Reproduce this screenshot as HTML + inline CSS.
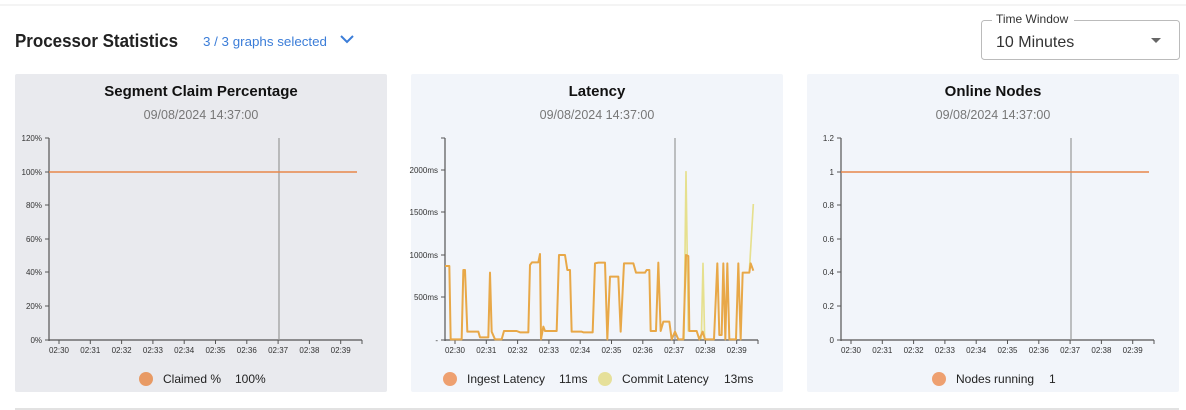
<!DOCTYPE html>
<html><head><meta charset="utf-8"><style>
html,body{margin:0;padding:0;background:#fff;width:1186px;height:410px;overflow:hidden}
svg{display:block;font-family:"Liberation Sans",sans-serif}
.t{font-size:8px;fill:#333}
</style></head><body>
<svg width="1186" height="410" viewBox="0 0 1186 410">
<line x1="0" y1="5" x2="1186" y2="5" stroke="#f4f4f4" stroke-width="2"/>
<line x1="15" y1="409" x2="1179" y2="409" stroke="#e2e2e2" stroke-width="2"/>
<text x="15" y="47" font-size="18" font-weight="bold" fill="#222" textLength="163" lengthAdjust="spacingAndGlyphs">Processor Statistics</text>
<text x="203" y="46" font-size="13" fill="#3b7dd8" textLength="124" lengthAdjust="spacingAndGlyphs">3 / 3 graphs selected</text>
<polyline points="341,36 347,42 353,36" fill="none" stroke="#3b7dd8" stroke-width="2"/>
<rect x="981.5" y="20.5" width="198" height="39" rx="3" fill="#fff" stroke="#bbb"/>
<rect x="992" y="12" width="82" height="14" fill="#fff"/>
<text x="996" y="23" font-size="12" fill="#333">Time Window</text>
<text x="996" y="47" font-size="16" fill="#333">10 Minutes</text>
<polygon points="1151,38 1161,38 1156,43" fill="#666"/>

<rect x="15" y="74" width="372" height="318" rx="2" fill="#e9eaee"/>
<rect x="411" y="74" width="372" height="318" rx="2" fill="#f2f5fa"/>
<rect x="807" y="74" width="372" height="318" rx="2" fill="#f2f5fa"/>

<g font-size="15" font-weight="bold" fill="#111" text-anchor="middle">
<text x="201" y="96">Segment Claim Percentage</text>
<text x="597" y="96">Latency</text>
<text x="993" y="96">Online Nodes</text>
</g>
<g font-size="12.5" fill="#777" text-anchor="middle">
<text x="201" y="119">09/08/2024 14:37:00</text>
<text x="597" y="119">09/08/2024 14:37:00</text>
<text x="993" y="119">09/08/2024 14:37:00</text>
</g>

<g id="ax">
<line x1="49" y1="138" x2="49" y2="341" stroke="#555" stroke-width="1.2"/>
<line x1="49" y1="340" x2="362" y2="340" stroke="#555" stroke-width="1.2"/>
<line x1="279" y1="138" x2="279" y2="340" stroke="#999" stroke-width="1.2"/>
<g stroke="#555" stroke-width="1">
<line x1="59" y1="340" x2="59" y2="344"/><line x1="90.3" y1="340" x2="90.3" y2="344"/><line x1="121.6" y1="340" x2="121.6" y2="344"/><line x1="152.9" y1="340" x2="152.9" y2="344"/><line x1="184.2" y1="340" x2="184.2" y2="344"/><line x1="215.5" y1="340" x2="215.5" y2="344"/><line x1="246.8" y1="340" x2="246.8" y2="344"/><line x1="278.1" y1="340" x2="278.1" y2="344"/><line x1="309.4" y1="340" x2="309.4" y2="344"/><line x1="340.7" y1="340" x2="340.7" y2="344"/><line x1="362" y1="340" x2="362" y2="344"/>
</g>
<g class="t" text-anchor="middle">
<text x="59" y="353">02:30</text><text x="90.3" y="353">02:31</text><text x="121.6" y="353">02:32</text><text x="152.9" y="353">02:33</text><text x="184.2" y="353">02:34</text><text x="215.5" y="353">02:35</text><text x="246.8" y="353">02:36</text><text x="278.1" y="353">02:37</text><text x="309.4" y="353">02:38</text><text x="340.7" y="353">02:39</text>
</g>
</g>
<use href="#ax" transform="translate(396,0)"/>
<use href="#ax" transform="translate(792,0)"/>

<g stroke="#555"><line x1="45" y1="138" x2="49" y2="138"/><line x1="45" y1="172" x2="49" y2="172"/><line x1="45" y1="205" x2="49" y2="205"/><line x1="45" y1="239" x2="49" y2="239"/><line x1="45" y1="272" x2="49" y2="272"/><line x1="45" y1="306" x2="49" y2="306"/><line x1="45" y1="340" x2="49" y2="340"/></g>
<g class="t" text-anchor="end"><text x="42" y="141">120%</text><text x="42" y="175">100%</text><text x="42" y="208">80%</text><text x="42" y="242">60%</text><text x="42" y="275">40%</text><text x="42" y="309">20%</text><text x="42" y="343">0%</text></g>
<line x1="49" y1="172" x2="357" y2="172" stroke="#e8874a" stroke-width="1.6"/>
<g stroke="#555"><line x1="837" y1="138" x2="841" y2="138"/><line x1="837" y1="172" x2="841" y2="172"/><line x1="837" y1="205" x2="841" y2="205"/><line x1="837" y1="239" x2="841" y2="239"/><line x1="837" y1="272" x2="841" y2="272"/><line x1="837" y1="306" x2="841" y2="306"/><line x1="837" y1="340" x2="841" y2="340"/></g>
<g class="t" text-anchor="end"><text x="834" y="141">1.2</text><text x="834" y="175">1</text><text x="834" y="208">0.8</text><text x="834" y="242">0.6</text><text x="834" y="275">0.4</text><text x="834" y="309">0.2</text><text x="834" y="343">0</text></g>
<line x1="841" y1="172" x2="1149" y2="172" stroke="#e8874a" stroke-width="1.6"/>
<g stroke="#555"><line x1="441" y1="138" x2="445" y2="138"/><line x1="441" y1="170" x2="445" y2="170"/><line x1="441" y1="212" x2="445" y2="212"/><line x1="441" y1="255" x2="445" y2="255"/><line x1="441" y1="297" x2="445" y2="297"/><line x1="441" y1="340" x2="445" y2="340"/></g>
<g class="t" text-anchor="end"><text x="438" y="173">2000ms</text><text x="438" y="215">1500ms</text><text x="438" y="258">1000ms</text><text x="438" y="300">500ms</text><text x="438" y="343">-</text></g>
<g transform="translate(410,130) scale(0.33333)" fill="none" stroke-linejoin="round">
<polyline stroke="#e6e08e" stroke-width="5" points="822,628 828,125 835,605"/>
<polyline stroke="#e6e08e" stroke-width="5" points="874,628 879,400 884,628"/>
<polyline stroke="#e6e08e" stroke-width="5" points="1018,425 1030,222"/>
<polyline stroke="#e8a848" stroke-width="6" points="105,408 118,408 122,628 155,628 160,420 165,420 172,605 205,605 210,622 235,622 240,428 245,605 255,628 275,628 282,603 320,603 330,607 355,607 360,405 366,397 385,397 390,372 393,628 400,590 405,603 440,603 447,375 465,375 472,420 480,420 485,605 515,605 520,607 548,607 555,400 565,398 585,398 592,628 600,440 625,440 632,605 642,400 670,400 678,428 705,428 710,420 718,420 722,603 738,603 745,398 752,603 760,575 778,575 785,628 795,605 805,628 820,628 828,375 835,378 838,603 860,603 868,628 878,605 885,628 912,628 922,400 928,615 935,615 940,400 946,628 952,400 958,628 978,628 985,400 992,628 998,428 1018,428 1022,400 1030,422"/>
</g>

<circle cx="146" cy="379" r="7" fill="#e89a64"/>
<text x="163" y="383" font-size="12" fill="#222">Claimed %</text>
<text x="235" y="383" font-size="12" fill="#222">100%</text>
<circle cx="450" cy="379" r="7" fill="#eea070"/>
<text x="467" y="383" font-size="12" fill="#222">Ingest Latency</text>
<text x="559" y="383" font-size="12" fill="#222">11ms</text>
<circle cx="605" cy="379" r="7" fill="#e6e09a"/>
<text x="622" y="383" font-size="12" fill="#222">Commit Latency</text>
<text x="724" y="383" font-size="12" fill="#222">13ms</text>
<circle cx="939" cy="379" r="7" fill="#eea070"/>
<text x="956" y="383" font-size="12" fill="#222">Nodes running</text>
<text x="1049" y="383" font-size="12" fill="#222">1</text>
</svg>
</body></html>
